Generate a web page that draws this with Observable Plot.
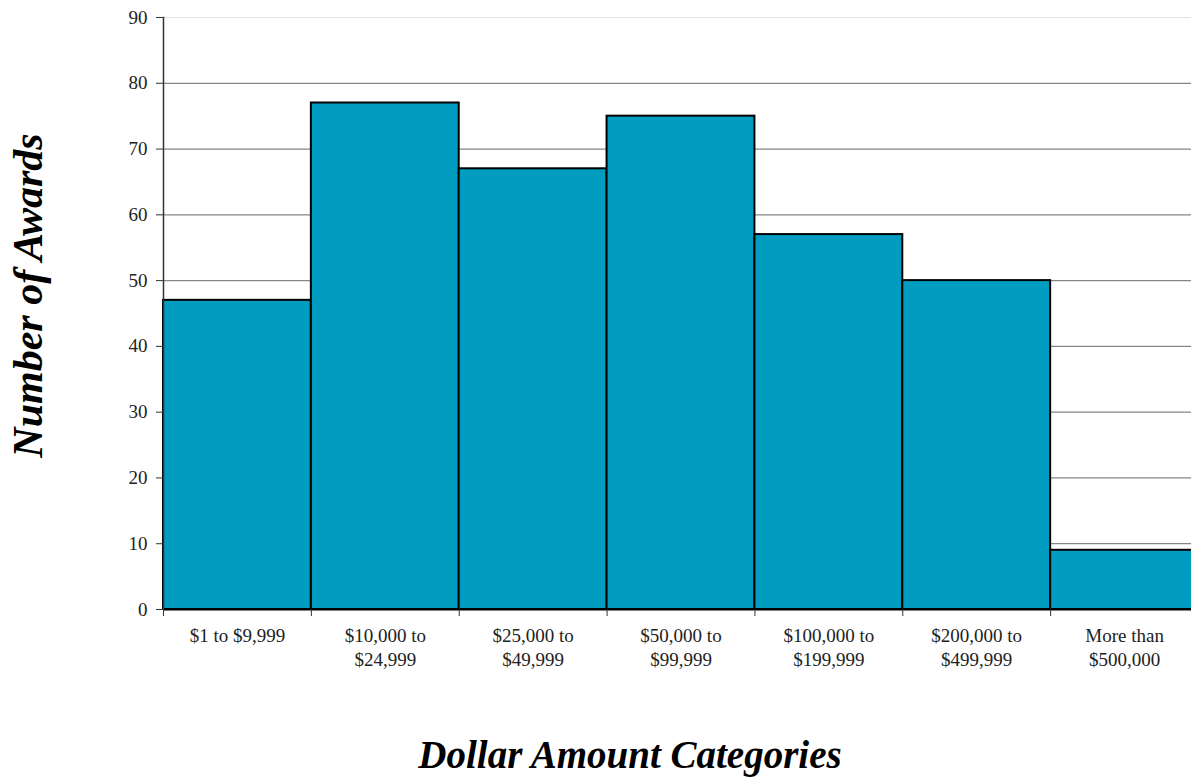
<!DOCTYPE html>
<html>
<head>
<meta charset="utf-8">
<script src="https://cdn.jsdelivr.net/npm/d3@7"></script>
<script src="https://cdn.jsdelivr.net/npm/@observablehq/plot@0.6"></script>
<style>
  html, body { margin: 0; padding: 0; background: #fff; }
  #chart { width: 1191px; height: 780px; overflow: hidden; }
  #chart svg { max-width: none !important; display: block; }
</style>
</head>
<body>
<div id="chart"></div>
<script>
const categories = [
  "$1 to $9,999",
  "$10,000 to\n$24,999",
  "$25,000 to\n$49,999",
  "$50,000 to\n$99,999",
  "$100,000 to\n$199,999",
  "$200,000 to\n$499,999",
  "More than\n$500,000"
];
const awards = [47, 77, 67, 75, 57, 50, 9];
const yTicks = [0, 10, 20, 30, 40, 50, 60, 70, 80, 90];
const gridValues = [10, 20, 30, 40, 50, 60, 70, 80];
const yTitle = "Number of Awards";
const xTitle = "Dollar Amount Categories";

const data = categories.map((c, i) => ({category: c, value: awards[i]}));

const W = 1198, ML = 163, MR = 0;
const bw = (W - ML - MR) / categories.length;
const font = "'Liberation Serif', 'DejaVu Serif', serif";

const chart = Plot.plot({
  width: W,
  height: 780,
  marginLeft: ML,
  marginRight: MR,
  marginTop: 17,
  marginBottom: 171,
  style: {fontFamily: font, fontSize: "20px", color: "#222", background: "#fff", maxWidth: "none"},
  x: {type: "band", domain: categories, padding: 0, round: false, label: null},
  y: {domain: [0, 90], label: null},
  marks: [
    Plot.ruleY([90], {stroke: "#e4e4e4", strokeWidth: 1}),
    Plot.ruleY(gridValues, {stroke: "#868686", strokeWidth: 1.2}),
    Plot.barY(data, {x: "category", y: "value", fill: "#009DC0", stroke: "#000", strokeWidth: 2, insetLeft: 0, insetRight: 0}),
    Plot.ruleY([0], {stroke: "#000", strokeWidth: 2}),
    Plot.frame({anchor: "left", stroke: "#333", strokeWidth: 1.5}),
    Plot.axisY({ticks: yTicks, tickSize: 7, tickPadding: 9, stroke: "#333", fill: "#222", fontSize: 19, label: null}),
    Plot.axisX({tickSize: 7, tickFormat: () => "", dx: -bw / 2, stroke: "#333", label: null}),
    Plot.axisX({tickSize: 0, tickPadding: 16, lineHeight: 1.25, fill: "#222", fontSize: 19, label: null}),
    Plot.text([yTitle], {frameAnchor: "left", textAnchor: "middle", lineAnchor: "middle", dx: -135, dy: -18, rotate: -90, fontSize: 42, fontWeight: "bold", fontStyle: "italic", fill: "#000"}),
    Plot.text([xTitle], {frameAnchor: "bottom", textAnchor: "middle", lineAnchor: "middle", dx: -51, dy: 146, fontSize: 39, fontWeight: "bold", fontStyle: "italic", fill: "#000"})
  ]
});
document.getElementById("chart").appendChild(chart);
</script>
</body>
</html>
